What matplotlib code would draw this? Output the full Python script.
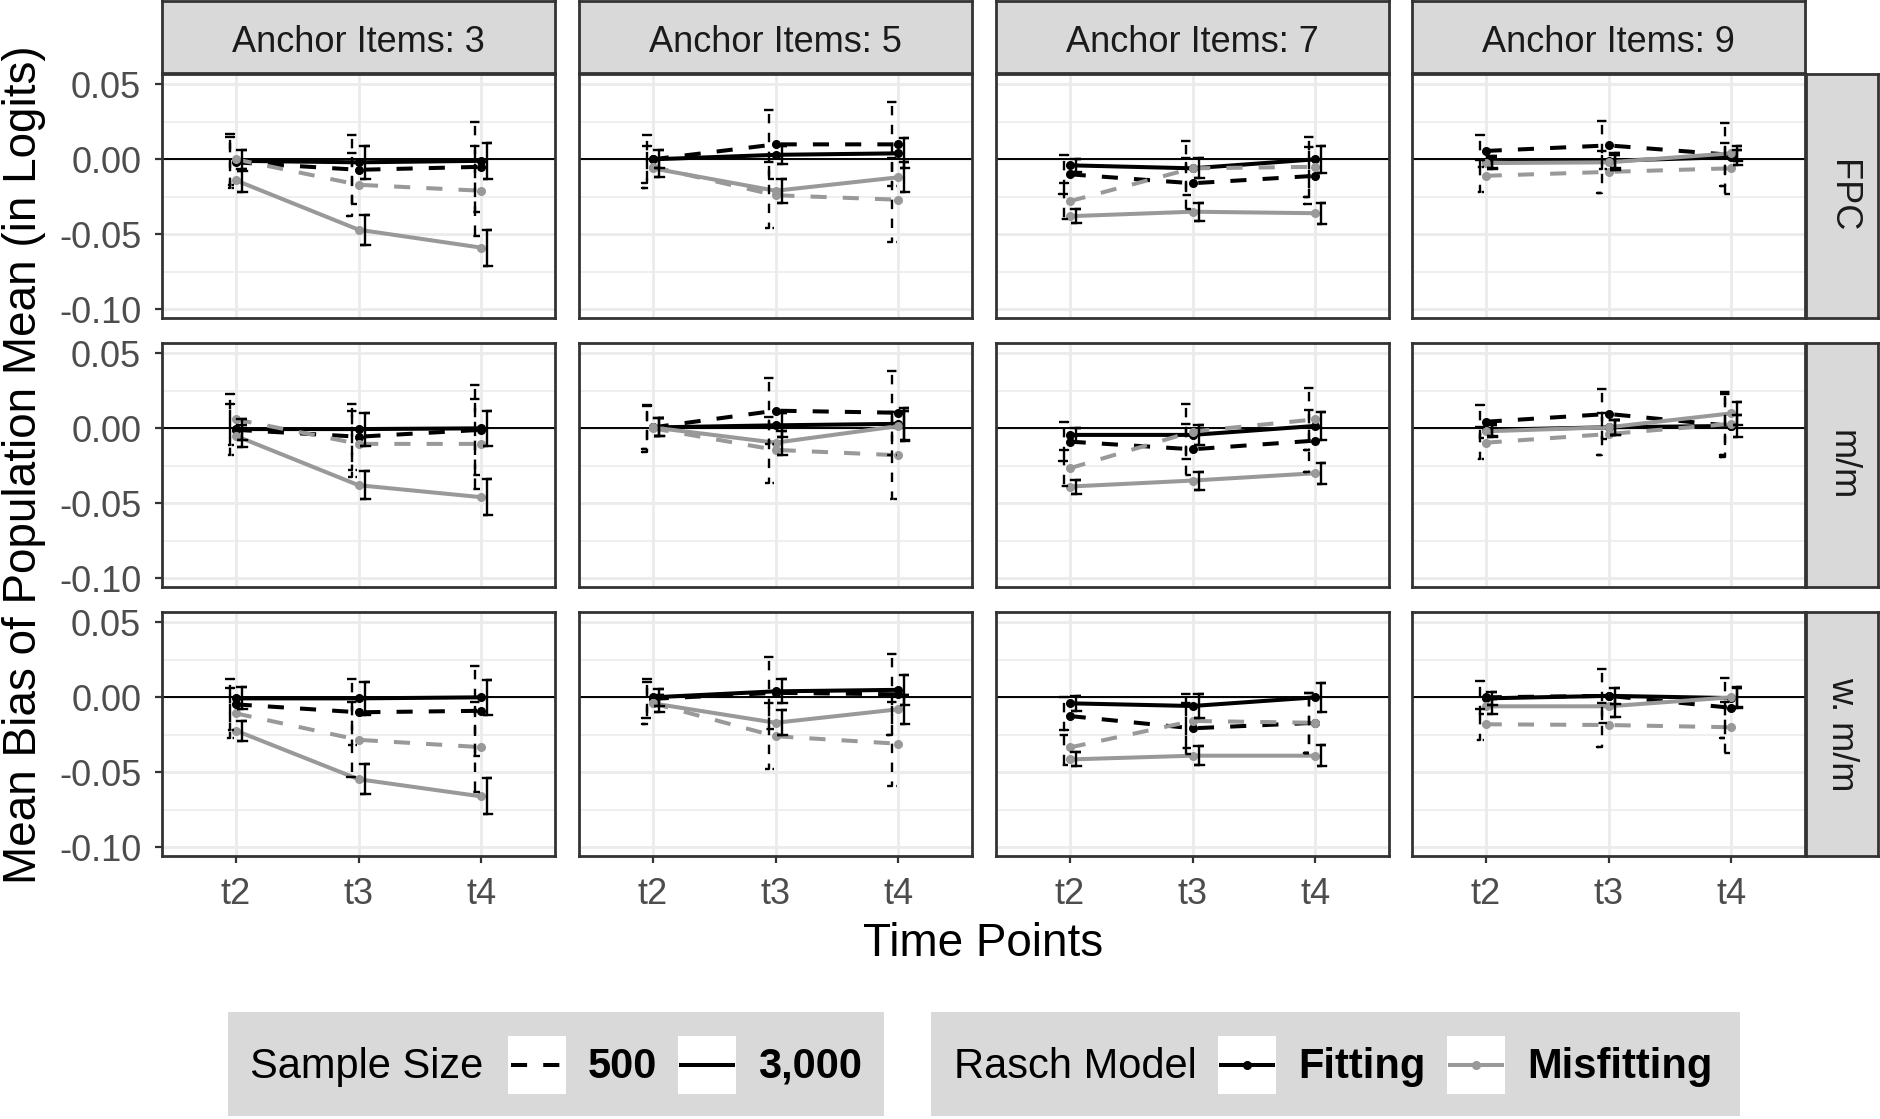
import numpy as np
import matplotlib
matplotlib.use("Agg")
import matplotlib.pyplot as plt
from matplotlib.patches import Rectangle
from matplotlib.lines import Line2D

plt.rcParams['font.family'] = ['Liberation Sans', 'DejaVu Sans']

time_points = ["t2", "t3", "t4"]
anchor_items = ["3", "5", "7", "9"]
methods = ["FPC", "m/m", "w. m/m"]

# mean bias, [method][anchor items][time point]
fit_500 = [
    [[-0.002, -0.007, -0.005], [0.000, 0.010, 0.010], [-0.010, -0.016, -0.011], [0.0056, 0.0093, 0.003]],
    [[-0.001, -0.0056, -0.001], [0.0006, 0.0118, 0.0104], [-0.0089, -0.014, -0.0082], [0.0044, 0.0096, 0.0016]],
    [[-0.0047, -0.010, -0.009], [-0.001, 0.003, 0.002], [-0.0125, -0.0207, -0.017], [0.000, 0.001, -0.007]],
]
fit_3000 = [
    [[-0.001, -0.002, -0.001], [0.000, 0.003, 0.004], [-0.004, -0.006, 0.000], [-0.002, -0.001, 0.0015]],
    [[-0.0005, -0.0005, 0.000], [0.0006, 0.002, 0.003], [-0.0044, -0.0044, 0.0016], [-0.001, 0.0007, 0.0016]],
    [[-0.0007, -0.0007, 0.000], [0.000, 0.004, 0.005], [-0.004, -0.0058, 0.000], [-0.0007, 0.001, -0.0005]],
]
mis_500 = [
    [[0.000, -0.017, -0.021], [-0.005, -0.024, -0.027], [-0.028, -0.006, -0.005], [-0.011, -0.0084, -0.006]],
    [[0.006, -0.0104, -0.0104], [0.000, -0.0144, -0.018], [-0.0267, -0.0022, 0.006], [-0.0096, -0.0038, 0.003]],
    [[-0.0107, -0.0284, -0.0333], [-0.004, -0.026, -0.031], [-0.0335, -0.0158, -0.017], [-0.018, -0.0185, -0.020]],
]
mis_3000 = [
    [[-0.014, -0.047, -0.059], [-0.006, -0.021, -0.012], [-0.038, -0.035, -0.036], [-0.0025, -0.002, 0.004]],
    [[-0.005, -0.038, -0.046], [0.0006, -0.0096, 0.0015], [-0.0389, -0.0349, -0.030], [-0.002, 0.0007, 0.010]],
    [[-0.0222, -0.0547, -0.0662], [-0.004, -0.017, -0.008], [-0.0415, -0.039, -0.039], [-0.006, -0.006, 0.000]],
]

# error bar half widths, same layout
err_fit_500 = [
    [[0.017, 0.023, 0.030], [0.016, 0.023, 0.028], [0.013, 0.017, 0.019], [0.0105, 0.016, 0.021]],
    [[0.017, 0.022, 0.030], [0.0145, 0.022, 0.028], [0.013, 0.017, 0.0207], [0.011, 0.017, 0.021]],
    [[0.017, 0.022, 0.030], [0.013, 0.024, 0.027], [0.013, 0.017, 0.020], [0.011, 0.018, 0.020]],
]
err_fit_3000 = [
    [[0.007, 0.011, 0.012], [0.006, 0.006, 0.010], [0.0045, 0.0067, 0.009], [0.004, 0.005, 0.005]],
    [[0.007, 0.011, 0.0115], [0.006, 0.008, 0.0107], [0.0045, 0.0067, 0.0095], [0.004, 0.005, 0.0073]],
    [[0.0073, 0.011, 0.0116], [0.0055, 0.008, 0.010], [0.005, 0.0078, 0.0098], [0.0045, 0.0055, 0.0067]],
]
err_mis_500 = [
    [[0.017, 0.021, 0.030], [0.014, 0.022, 0.028], [0.012, 0.018, 0.020], [0.0105, 0.014, 0.017]],
    [[0.017, 0.022, 0.030], [0.0155, 0.022, 0.029], [0.012, 0.0185, 0.0207], [0.0107, 0.014, 0.021]],
    [[0.0167, 0.025, 0.030], [0.014, 0.022, 0.028], [0.012, 0.018, 0.020], [0.0105, 0.0145, 0.017]],
]
err_mis_3000 = [
    [[0.0075, 0.010, 0.012], [0.006, 0.008, 0.010], [0.0045, 0.006, 0.007], [0.004, 0.005, 0.005]],
    [[0.0075, 0.0095, 0.012], [0.006, 0.008, 0.010], [0.0047, 0.006, 0.007], [0.004, 0.005, 0.0078]],
    [[0.0067, 0.010, 0.012], [0.0055, 0.0085, 0.0098], [0.0047, 0.0062, 0.0069], [0.005, 0.007, 0.0067]],
]

BLACK = "#000000"
GREY = "#999999"
BORDER = "#333333"
GRID = "#EBEBEB"
STRIP = "#D9D9D9"
DASHED = (0, (4, 4))

W, H = 1880, 1119
fig = plt.figure(figsize=(W / 100, H / 100), dpi=100)


def px_axes(x0, y0, x1, y1):
    return fig.add_axes([x0 / W, 1 - y1 / H, (x1 - x0) / W, (y1 - y0) / H])


col_left = [162, 579, 996, 1412]
row_top = [74, 343, 612]
pw, ph = 393, 244

series = [
    (fit_500, err_fit_500, BLACK, DASHED, -0.05),
    (fit_3000, err_fit_3000, BLACK, '-', 0.05),
    (mis_500, err_mis_500, GREY, DASHED, -0.05),
    (mis_3000, err_mis_3000, GREY, '-', 0.05),
]
x = np.arange(len(time_points))
cap = 0.04

for r, method in enumerate(methods):
    for c, anchor in enumerate(anchor_items):
        x0, y0 = col_left[c], row_top[r]
        ax = px_axes(x0, y0, x0 + pw, y0 + ph)
        ax.set_xlim(-0.6, 2.6)
        ax.set_ylim(-0.106, 0.057)
        ax.set_xticks(x)
        ax.set_xticklabels(time_points)
        ax.set_yticks([-0.10, -0.05, 0.00, 0.05])
        ax.set_yticklabels(["-0.10", "-0.05", "0.00", "0.05"])
        ax.set_yticks([-0.075, -0.025, 0.025], minor=True)
        ax.grid(which='major', color=GRID, lw=2.0)
        ax.grid(which='minor', axis='y', color=GRID, lw=1.1)
        ax.set_axisbelow(True)
        for s in ax.spines.values():
            s.set_color(BORDER)
            s.set_linewidth(2.0)
        ax.tick_params(which='minor', length=0)
        ax.tick_params(which='major', length=5, width=1.6, color=BORDER,
                       labelsize=26, labelcolor="#4D4D4D")
        ax.tick_params(axis='y', pad=10, left=(c == 0), labelleft=(c == 0))
        ax.tick_params(axis='x', pad=10, bottom=(r == 2), labelbottom=(r == 2))

        ax.axhline(0, color=BLACK, lw=1.4, zorder=2)

        for means, errs, col, ls, off in series:
            m = np.array(means[r][c])
            e = np.array(errs[r][c])
            ax.plot(x, m, color=col, lw=2.9, linestyle=ls, zorder=3,
                    dash_capstyle='butt')
            ax.plot(x, m, 'o', color=col, markersize=5.5, zorder=4)
            for xi, mi, ei in zip(x + off, m, e):
                ax.plot([xi - cap, xi + cap, xi, xi, xi - cap, xi + cap],
                        [mi + ei, mi + ei, mi + ei, mi - ei, mi - ei, mi - ei],
                        color=BLACK, lw=1.7, linestyle=ls, zorder=5,
                        dash_capstyle='butt', solid_joinstyle='miter')

        # top strips
        if r == 0:
            sax = px_axes(x0, 1, x0 + pw, 73)
            sax.set_facecolor(STRIP)
            sax.set_xticks([])
            sax.set_yticks([])
            for s in sax.spines.values():
                s.set_color(BORDER)
                s.set_linewidth(2.0)
            sax.text(0.5, 0.42, f"Anchor Items: {anchor}", ha='center', va='center',
                     fontsize=26, color="#1A1A1A", transform=sax.transAxes)
    # right strips
    sax = px_axes(1806, row_top[r], 1878, row_top[r] + ph)
    sax.set_facecolor(STRIP)
    sax.set_xticks([])
    sax.set_yticks([])
    for s in sax.spines.values():
        s.set_color(BORDER)
        s.set_linewidth(2.0)
    sax.text(0.5, 0.5, method, ha='center', va='center', rotation=-90,
             fontsize=26, color="#1A1A1A", transform=sax.transAxes)

fig.text(24 / W, 1 - 465 / H, "Mean Bias of Population Mean (in Logits)",
         rotation=90, ha='center', va='center', fontsize=33)
fig.text(983 / W, 1 - 944 / H, "Time Points", ha='center', va='center', fontsize=33)


# legends
def legend_box(x0, x1, title, title_x, keys):
    lax = px_axes(x0, 1012, x1, 1116)
    lax.set_xlim(0, x1 - x0)
    lax.set_ylim(0, 104)
    lax.set_facecolor(STRIP)
    lax.set_xticks([])
    lax.set_yticks([])
    for s in lax.spines.values():
        s.set_visible(False)
    lax.text(title_x, 49, title, ha='left', va='center', fontsize=30)
    for kx, label, col, ls, marker in keys:
        lax.add_patch(Rectangle((kx, 22), 58, 58, facecolor='white', edgecolor='none'))
        lax.add_line(Line2D([kx + 3, kx + 55], [51, 51], color=col, lw=2.9,
                            linestyle=ls, dash_capstyle='butt'))
        if marker:
            lax.plot([kx + 29], [51], 'o', color=col, markersize=5.5)
        lax.text(kx + 80, 49, label, ha='left', va='center', fontsize=30,
                 fontweight='bold')


legend_box(228, 884, "Sample Size", 22,
           [(280, "500", BLACK, DASHED, False), (450, "3,000", BLACK, '-', False)])
legend_box(931, 1740, "Rasch Model", 23,
           [(287, "Fitting", BLACK, '-', True), (516, "Misfitting", GREY, '-', True)])

fig.savefig("out.png", dpi=100)
